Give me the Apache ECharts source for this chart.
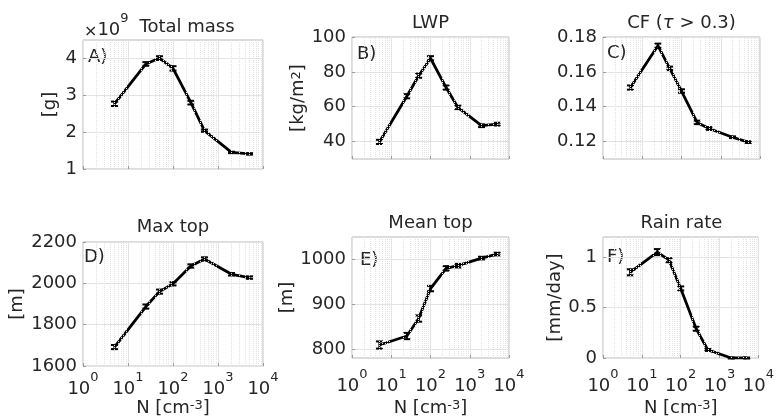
<!DOCTYPE html>
<html>
<head>
<meta charset="utf-8">
<script src="https://cdn.jsdelivr.net/npm/echarts@6/dist/echarts.min.js"></script>
<style>
  html, body { margin: 0; padding: 0; background: #fff; }
  #chart { width: 777px; height: 418px; }
</style>
</head>
<body>
<div id="chart"></div>
<script>
// droplet number concentration, cm^-3
const nValues = [5, 25, 50, 100, 250, 500, 2000, 5000];

// panel values
const totalMass = [2.77, 3.85, 4.01, 3.73, 2.80, 2.04, 1.45, 1.41]; // x 1e9 g
const lwp = [39.8, 66, 77.8, 87.8, 71, 59.6, 49.1, 50.0];
const cloudFraction = [0.151, 0.175, 0.162, 0.149, 0.131, 0.1275, 0.1225, 0.1197];
const maxTop = [1692, 1888, 1960, 1998, 2084, 2118, 2044, 2028];
const meanTop = [809, 829, 868, 935, 980, 986, 1003, 1012];
const rainRate = [0.85, 1.05, 0.97, 0.69, 0.29, 0.08, 0.0, 0.0];

// half-widths of the error bars
const massErr = [0.06, 0.05, 0.05, 0.06, 0.05, 0.03, 0.02, 0.02];
const lwpErr = [1.2, 1.2, 1.2, 1.2, 1.2, 1.0, 0.8, 0.8];
const cfErr = [0.0012, 0.0012, 0.001, 0.001, 0.001, 0.0008, 0.0005, 0.0005];
const maxTopErr = [10, 10, 10, 8, 8, 8, 6, 6];
const meanTopErr = [8, 7, 7, 6, 5, 4, 3, 3];
const rainErr = [0.03, 0.03, 0.02, 0.02, 0.02, 0.01, 0.005, 0.005];

// y tick labels per panel
const massTicks = [1, 2, 3, 4];
const lwpTicks = [40, 60, 80, 100];
const cfTicks = [0.12, 0.14, 0.16, 0.18];
const maxTopTicks = [1600, 1800, 2000, 2200];
const meanTopTicks = [800, 900, 1000];
const rainTicks = [0, 0.5, 1];

// minor log grid lines
const minorN = [2, 3, 4, 5, 6, 7, 8, 9, 20, 30, 40, 50, 60, 70, 80, 90,
  200, 300, 400, 500, 600, 700, 800, 900, 2000, 3000, 4000, 5000, 6000, 7000, 8000, 9000];

const font = 'DejaVu Sans';
const textColor = '#262626';
const fs = 18;

const panels = [
  { letter: 'A)', title: 'Total mass', values: totalMass, err: massErr, ticks: massTicks,
    yMin: 1, yMax: 4.5, yName: '[g]', nameGap: 24, box: [83, 40, 180, 129], bottom: false,
    titleX: 187, titleY: 27, letterX: 88, letterY: 57 },
  { letter: 'B)', title: 'LWP', values: lwp, err: lwpErr, ticks: lwpTicks,
    yMin: 30, yMax: 100, yName: '[kg/m{sup|2}]', nameGap: 43, box: [352, 37, 157, 122], bottom: false,
    titleX: 430.5, titleY: 23, letterX: 357, letterY: 54 },
  { letter: 'C)', title: 'CF ({it|τ} > 0.3)', values: cloudFraction, err: cfErr, ticks: cfTicks,
    yMin: 0.11, yMax: 0.18, yName: '', nameGap: 40, box: [603, 37, 157, 122], bottom: false,
    titleX: 681.5, titleY: 23, letterX: 607, letterY: 53 },
  { letter: 'D)', title: 'Max top', values: maxTop, err: maxTopErr, ticks: maxTopTicks,
    yMin: 1600, yMax: 2200, yName: '[m]', nameGap: 57, box: [83, 242, 180, 130], bottom: true,
    labelMargin: 5, xNameGap: 29, titleX: 173, titleY: 227, letterX: 84, letterY: 257 },
  { letter: 'E)', title: 'Mean top', values: meanTop, err: meanTopErr, ticks: meanTopTicks,
    yMin: 780, yMax: 1050, yName: '[m]', nameGap: 56, box: [352, 237, 157, 123], bottom: true,
    labelMargin: 10, xNameGap: 41, titleX: 430.5, titleY: 223, letterX: 360, letterY: 260 },
  { letter: 'F)', title: 'Rain rate', values: rainRate, err: rainErr, ticks: rainTicks,
    yMin: 0, yMax: 1.2, yName: '[mm/day]', nameGap: 38, box: [603, 237, 157, 123], bottom: true,
    labelMargin: 10, xNameGap: 41, titleX: 681.5, titleY: 223, letterX: 607, letterY: 257 }
];

const supStyle = { fontSize: 13, lineHeight: 15, verticalAlign: 'top', fontFamily: font, color: textColor };

function renderErrorBar(params, api) {
  const x = api.value(0);
  const lo = api.coord([x, api.value(1)]);
  const hi = api.coord([x, api.value(2)]);
  const w = 3.5;
  const style = { stroke: '#000', lineWidth: 2 };
  return {
    type: 'group',
    children: [
      { type: 'line', shape: { x1: lo[0], y1: lo[1], x2: hi[0], y2: hi[1] }, style },
      { type: 'line', shape: { x1: lo[0] - w, y1: lo[1], x2: lo[0] + w, y2: lo[1] }, style },
      { type: 'line', shape: { x1: hi[0] - w, y1: hi[1], x2: hi[0] + w, y2: hi[1] }, style }
    ]
  };
}

const chart = echarts.init(document.getElementById('chart'));

const series = [];
panels.forEach((p, i) => {
  const pts = nValues.map((n, k) => [n, p.values[k]]);
  // invisible carrier for the dotted minor log grid
  series.push({
    type: 'line', xAxisIndex: i, yAxisIndex: i, data: pts, silent: true, z: 1,
    showSymbol: false, lineStyle: { opacity: 0 },
    markLine: {
      silent: true, symbol: 'none', animation: false,
      label: { show: false },
      lineStyle: { color: '#e2e2e2', type: 'dotted', width: 1 },
      data: minorN.map((v) => ({ xAxis: v }))
    }
  });
  series.push({
    type: 'line', xAxisIndex: i, yAxisIndex: i, data: pts, z: 3,
    showSymbol: false, color: '#000', lineStyle: { color: '#000', width: 2.8 }
  });
  series.push({
    type: 'custom', xAxisIndex: i, yAxisIndex: i, z: 4,
    renderItem: renderErrorBar,
    encode: { x: 0, y: [1, 2] },
    data: nValues.map((n, k) => [n, p.values[k] - p.err[k], p.values[k] + p.err[k]])
  });
});

const graphic = [];
panels.forEach((p) => {
  graphic.push({
    type: 'text', x: p.titleX, y: p.titleY,
    style: {
      text: p.title, font: fs + 'px "' + font + '"', fill: textColor,
      align: 'center', verticalAlign: 'middle',
      rich: { it: { fontStyle: 'italic', fontSize: fs, fontFamily: font, fill: textColor } }
    }
  });
  graphic.push({
    type: 'text', x: p.letterX, y: p.letterY,
    style: { text: p.letter, font: fs + 'px "' + font + '"', fill: textColor, align: 'left', verticalAlign: 'middle' }
  });
});
graphic.push({
  type: 'text', x: 84, y: 26,
  style: {
    text: '{x|×}{b|10}{s|9}', fill: textColor, align: 'left', verticalAlign: 'middle',
    rich: {
      x: { fontSize: 16, fontFamily: font, fill: textColor, lineHeight: 27, verticalAlign: 'bottom' },
      b: { fontSize: fs, fontFamily: font, fill: textColor, lineHeight: 27, verticalAlign: 'bottom' },
      s: { fontSize: 13, fontFamily: font, fill: textColor, lineHeight: 15, verticalAlign: 'top' }
    }
  }
});

const option = {
  animation: false,
  textStyle: { fontFamily: font, color: textColor },
  grid: panels.map((p) => ({
    left: p.box[0], top: p.box[1], width: p.box[2], height: p.box[3],
    show: true, borderColor: '#b8b8b8', borderWidth: 1, backgroundColor: 'transparent'
  })),
  xAxis: panels.map((p, i) => ({
    type: 'log', logBase: 10, gridIndex: i, min: 1, max: 10000,
    axisLine: { show: false },
    axisTick: { show: true, inside: true, length: 3, lineStyle: { color: '#9a9a9a' } },
    splitLine: { show: true, lineStyle: { color: '#e3e3e3', width: 1 } },
    axisLabel: {
      show: p.bottom, margin: p.labelMargin || 8, color: textColor,
      formatter: (v) => '{b|10}{sup|' + Math.round(Math.log10(v)) + '}',
      rich: {
        b: { fontSize: fs, lineHeight: 27, verticalAlign: 'bottom', fontFamily: font, color: textColor },
        sup: supStyle
      }
    },
    name: p.bottom ? 'N [cm{sup|-3}]' : '',
    nameLocation: 'middle', nameGap: p.xNameGap || 30,
    nameTextStyle: {
      fontSize: fs, color: textColor, fontFamily: font,
      rich: { sup: supStyle }
    }
  })),
  yAxis: panels.map((p, i) => ({
    type: 'value', gridIndex: i, min: p.yMin, max: p.yMax,
    axisLine: { show: false },
    axisTick: { show: true, inside: true, length: 3, customValues: p.ticks, lineStyle: { color: '#9a9a9a' } },
    axisLabel: {
      customValues: p.ticks, fontSize: fs, color: textColor, margin: 6, fontFamily: font,
      formatter: (v) => String(+v.toFixed(4))
    },
    splitLine: { show: true, lineStyle: { color: '#e3e3e3', width: 1 } },
    name: p.yName, nameLocation: 'middle', nameGap: p.nameGap, nameRotate: 90,
    nameTextStyle: {
      fontSize: fs, color: textColor, fontFamily: font,
      rich: { sup: supStyle }
    }
  })),
  series: series,
  graphic: graphic
};

chart.setOption(option);
</script>
</body>
</html>
